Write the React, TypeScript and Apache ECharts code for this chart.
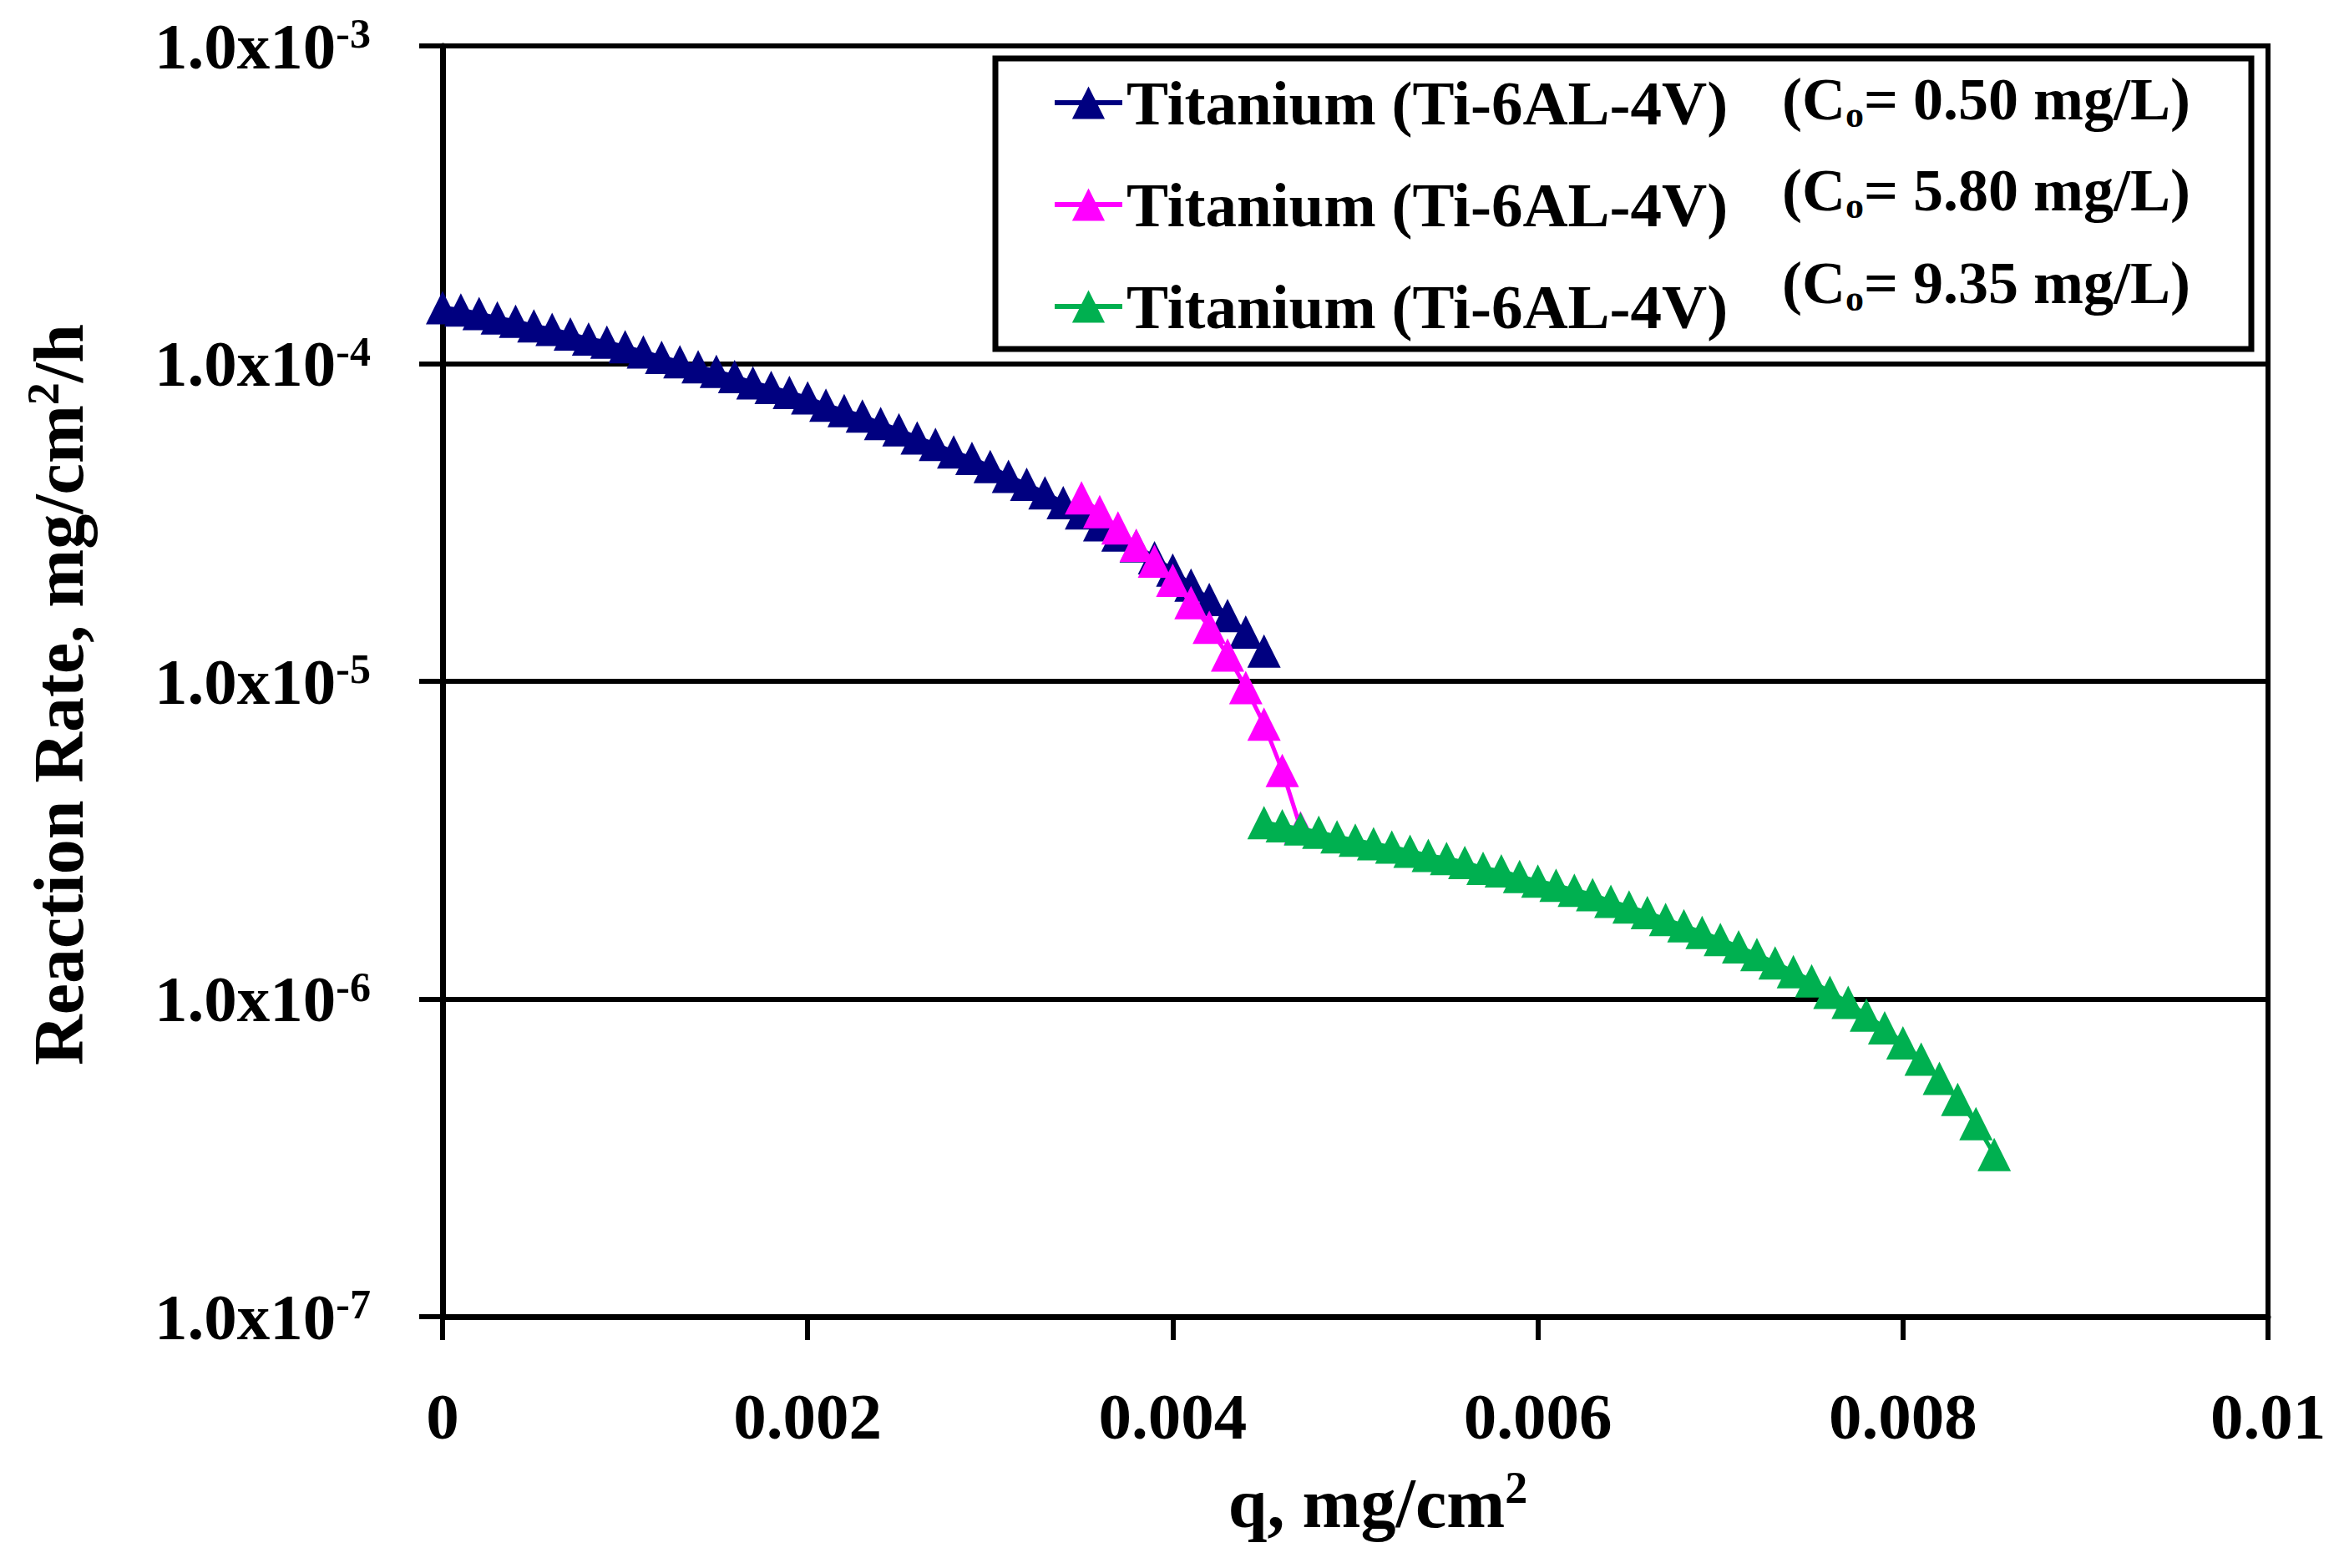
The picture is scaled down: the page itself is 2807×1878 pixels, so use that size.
import React, { useEffect, useRef } from "react";
import * as echarts from "echarts";

// ---------- data ----------
const qBlue = [
  0.0, 0.0001, 0.0002, 0.0003, 0.0004, 0.0005, 0.0006, 0.0007, 0.0008, 0.0009,
  0.001, 0.0011, 0.0012, 0.0013, 0.0014, 0.0015, 0.0016, 0.0017, 0.0018, 0.0019,
  0.002, 0.0021, 0.0022, 0.0023, 0.0024, 0.0025, 0.0026, 0.0027, 0.0028, 0.0029,
  0.003, 0.0031, 0.0032, 0.0033, 0.0034, 0.0035, 0.0036, 0.0037, 0.0038, 0.0039,
  0.004, 0.0041, 0.0042, 0.0043, 0.0044, 0.0045,
];
const rateBlue = [
  1.5e-4, 1.475e-4, 1.437e-4, 1.392e-4, 1.36e-4, 1.314e-4, 1.281e-4, 1.24e-4, 1.195e-4, 1.168e-4,
  1.13e-4, 1.089e-4, 1.047e-4, 1.013e-4, 9.77e-5, 9.46e-5, 9.11e-5, 8.7e-5, 8.42e-5, 8.11e-5,
  7.8e-5, 7.4e-5, 7.11e-5, 6.84e-5, 6.48e-5, 6.19e-5, 5.84e-5, 5.57e-5, 5.27e-5, 5.03e-5,
  4.74e-5, 4.42e-5, 4.17e-5, 3.92e-5, 3.65e-5, 3.39e-5, 3.11e-5, 2.89e-5, 2.67e-5, 2.45e-5,
  2.24e-5, 2.01e-5, 1.81e-5, 1.61e-5, 1.43e-5, 1.245e-5,
];

const qPink = [
  0.0035, 0.0036, 0.0037, 0.0038, 0.0039, 0.004, 0.0041, 0.0042, 0.0043, 0.0044,
  0.0045, 0.0046, 0.0047,
];
const ratePink = [
  3.78e-5, 3.42e-5, 3.04e-5, 2.68e-5, 2.39e-5, 2.08e-5, 1.77e-5, 1.48e-5, 1.21e-5, 9.56e-6,
  7.33e-6, 5.24e-6, 3.46e-6,
];

const qGreen = [
  0.0045, 0.0046, 0.0047, 0.0048, 0.0049, 0.005, 0.0051, 0.0052, 0.0053, 0.0054,
  0.0055, 0.0056, 0.0057, 0.0058, 0.0059, 0.006, 0.0061, 0.0062, 0.0063, 0.0064,
  0.0065, 0.0066, 0.0067, 0.0068, 0.0069, 0.007, 0.0071, 0.0072, 0.0073, 0.0074,
  0.0075, 0.0076, 0.0077, 0.0078, 0.0079, 0.008, 0.0081, 0.0082, 0.0083, 0.0084,
  0.0085,
];
const rateGreen = [
  3.59e-6, 3.51e-6, 3.43e-6, 3.35e-6, 3.24e-6, 3.16e-6, 3.08e-6, 3.01e-6, 2.92e-6, 2.83e-6,
  2.77e-6, 2.69e-6, 2.58e-6, 2.53e-6, 2.43e-6, 2.35e-6, 2.28e-6, 2.2e-6, 2.13e-6, 2.03e-6,
  1.95e-6, 1.87e-6, 1.78e-6, 1.7e-6, 1.62e-6, 1.54e-6, 1.46e-6, 1.38e-6, 1.3e-6, 1.22e-6,
  1.14e-6, 1.05e-6, 9.76e-7, 8.9e-7, 8.11e-7, 7.28e-7, 6.47e-7, 5.63e-7, 4.83e-7, 4.05e-7,
  3.24e-7,
];

const legendMain = "Titanium (Ti-6AL-4V)";
const legendConc = ["0.50", "5.80", "9.35"];
const seriesColors = ["#000080", "#FF00FF", "#00B050"];

const xTickLabels = ["0", "0.002", "0.004", "0.006", "0.008", "0.01"];
const yTickMantissa = "1.0x10";
const yTickExponents = ["-7", "-6", "-5", "-4", "-3"];

const xTitle = ["q, mg/cm", "2"];
const yTitle = ["Reaction Rate, mg/cm", "2", "/h"];

// ---------- chart ----------
const FONT = "'Liberation Serif', 'Times New Roman', serif";

const zip = (xs: number[], ys: number[]) => xs.map((x, i) => [x, ys[i]]);

export default function App() {
  const ref = useRef<HTMLDivElement>(null);

  useEffect(() => {
    if (!ref.current) return;
    const chart = echarts.init(ref.current, undefined, { renderer: "svg" });

    const seriesData = [zip(qBlue, rateBlue), zip(qPink, ratePink), zip(qGreen, rateGreen)];
    const names = legendConc.map((c) => `${legendMain} (Co= ${c} mg/L)`);

    const coRows = [119, 228, 339];

    const option: any = {
      animation: false,
      backgroundColor: "#fff",
      grid: {
        left: 530,
        top: 55,
        width: 2186,
        height: 1522,
        show: true,
        borderColor: "#000",
        borderWidth: 6,
        containLabel: false,
      },
      xAxis: {
        type: "value",
        min: 0,
        max: 0.01,
        interval: 0.002,
        axisLine: { show: true, onZero: false, lineStyle: { color: "#000", width: 7 } },
        axisTick: { show: true, inside: false, length: 28, lineStyle: { color: "#000", width: 6 } },
        splitLine: { show: false },
        axisLabel: {
          margin: 79,
          color: "#000",
          fontFamily: FONT,
          fontWeight: "bold",
          fontSize: 79,
          lineHeight: 80,
          formatter: (v: number) => xTickLabels[Math.round(v / 0.002)] ?? "",
        },
        name: `{t|${xTitle[0]}}{s|${xTitle[1]}}`,
        nameLocation: "middle",
        nameGap: 178,
        nameTextStyle: {
          padding: [0, 0, 0, 54],
          rich: {
            t: { fontFamily: FONT, fontWeight: "bold", fontSize: 84, lineHeight: 90, color: "#000" },
            s: { fontFamily: FONT, fontWeight: "bold", fontSize: 54, lineHeight: 60, verticalAlign: "top", color: "#000" },
          },
        },
      },
      yAxis: {
        type: "log",
        logBase: 10,
        min: 1e-7,
        max: 1e-3,
        axisLine: { show: true, lineStyle: { color: "#000", width: 7 } },
        axisTick: { show: true, inside: false, length: 28, lineStyle: { color: "#000", width: 6 } },
        splitLine: { show: true, lineStyle: { color: "#000", width: 6 } },
        minorTick: { show: false },
        axisLabel: {
          margin: 86,
          formatter: (v: number) => {
            const e = Math.round(Math.log10(v));
            const lab = yTickExponents[e + 7] ?? String(e);
            return `{b|${yTickMantissa}}{s|${lab}}`;
          },
          rich: {
            b: { fontFamily: FONT, fontWeight: "bold", fontSize: 79, lineHeight: 80, color: "#000" },
            s: { fontFamily: FONT, fontWeight: "bold", fontSize: 50, lineHeight: 50, verticalAlign: "top", color: "#000" },
          },
        },
        name: `{t|${yTitle[0]}}{s|${yTitle[1]}}{t|${yTitle[2]}}`,
        nameLocation: "middle",
        nameGap: 415,
        nameRotate: 90,
        nameTextStyle: {
          padding: [0, 32, 0, 0],
          rich: {
            t: { fontFamily: FONT, fontWeight: "bold", fontSize: 84, lineHeight: 90, color: "#000" },
            s: { fontFamily: FONT, fontWeight: "bold", fontSize: 54, lineHeight: 60, verticalAlign: "top", color: "#000" },
          },
        },
      },
      legend: {
        show: true,
        orient: "vertical",
        left: 1260,
        top: 83,
        padding: 0,
        itemGap: 42,
        itemWidth: 81,
        itemHeight: 49,
        selectedMode: false,
        data: names,
        lineStyle: { width: 6 },
        formatter: (n: string) => n.split(" (Co")[0],
        textStyle: {
          fontFamily: FONT,
          fontWeight: "bold",
          fontSize: 75,
          lineHeight: 80,
          color: "#000",
        },
      },
      graphic: [
        {
          type: "rect",
          z: 0,
          silent: true,
          shape: { x: 1192, y: 70, width: 1504, height: 348 },
          style: { fill: "#fff", stroke: "#000", lineWidth: 7 },
        },
        ...legendConc.map((c, i) => ({
          type: "text",
          z: 5,
          silent: true,
          x: 2134,
          y: coRows[i],
          style: {
            text: `{c|(C}{o|o}{c|= ${c} mg/L)}`,
            verticalAlign: "middle",
            align: "left",
            rich: {
              c: { fontFamily: FONT, fontWeight: "bold", fontSize: 72, lineHeight: 80, fill: "#000" },
              o: { fontFamily: FONT, fontWeight: "bold", fontSize: 44, lineHeight: 26, verticalAlign: "bottom", fill: "#000" },
            },
          },
        })),
      ],
      series: seriesData.map((d, i) => ({
        name: names[i],
        type: "line",
        data: d,
        symbol: "triangle",
        symbolSize: 40,
        showSymbol: true,
        showAllSymbol: true,
        clip: false,
        silent: true,
        color: seriesColors[i],
        itemStyle: { color: seriesColors[i] },
        lineStyle: { color: seriesColors[i], width: 5 },
        emphasis: { disabled: true },
        z: 3 + i,
      })),
    };

    chart.setOption(option);
    return () => chart.dispose();
  }, []);

  return (
    <div
      ref={ref}
      style={{ position: "fixed", left: 0, top: 0, width: 2807, height: 1878, background: "#fff" }}
    />
  );
}
